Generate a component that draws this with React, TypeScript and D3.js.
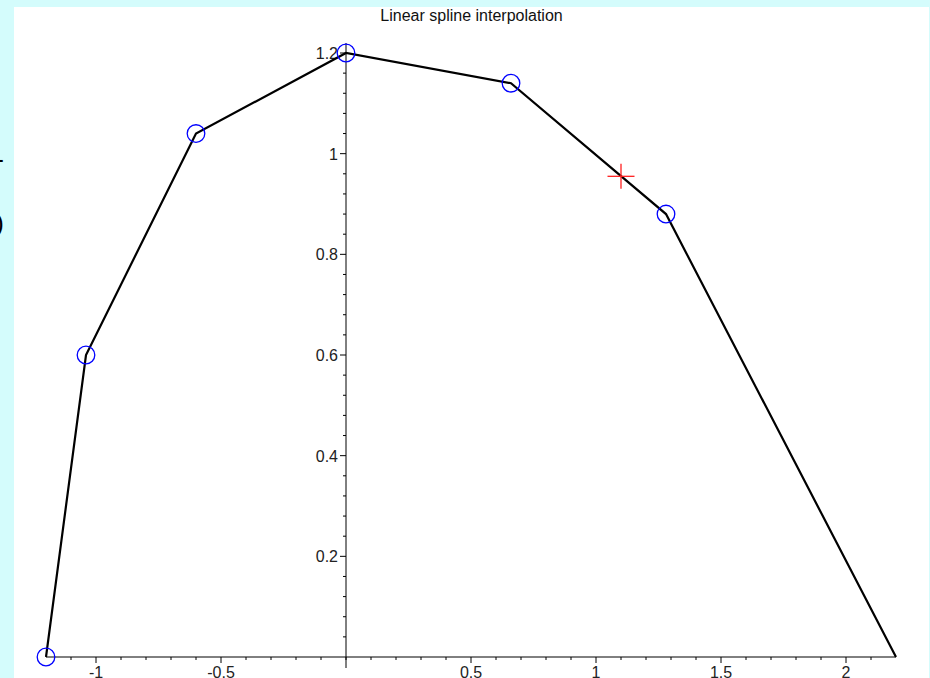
import React from "react";
import * as d3 from "d3";

// knots of the linear spline
const knotX = [-1.2, -1.04, -0.6, 0, 0.66, 1.28, 2.2];
const knotY = [0, 0.6, 1.04, 1.2, 1.14, 0.88, 0];
// knots drawn with a circle marker
const markedCount = 6;
// evaluated point (red cross)
const queryX = [1.1];
const queryY = [0.955];

const xMajorTicks = [-1, -0.5, 0.5, 1, 1.5, 2];
const yMajorTicks = [0.2, 0.4, 0.6, 0.8, 1, 1.2];
const title = "Linear spline interpolation";

const W = 930;
const H = 678;
const FONT = "'Liberation Sans', Arial, sans-serif";

export default function App() {
  const x = d3.scaleLinear().domain([-1.2, 2.2]).range([46, 896]);
  const y = d3.scaleLinear().domain([0, 1.2]).range([657, 53]);

  const xMinor = d3.range(-11, 22).map((i) => i / 10);
  const yMinor = d3.range(1, 31).map((i) => i * 0.04);

  const line = d3
    .line<number>()
    .x((_, i) => x(knotX[i]))
    .y((d) => y(d));

  const x0 = x(0);
  const y0 = y(0);

  return (
    <div style={{ position: "fixed", left: 0, top: 0, width: W, height: H }}>
      <svg width={W} height={H} style={{ display: "block" }}>
        <rect x={0} y={0} width={W} height={H} fill="#d4fcfc" />
        <rect x={14} y={7} width={915} height={H - 7} fill="#ffffff" />

        {/* glyphs of a label that sits mostly off the left edge */}
        <text x={4} y={168} textAnchor="end" fontSize={26} fontFamily={FONT} fill="#000">
          -
        </text>
        <text x={4} y={232} textAnchor="end" fontSize={26} fontFamily={FONT} fill="#000">
          )
        </text>

        <text
          x={471.5}
          y={21}
          textAnchor="middle"
          fontSize={16}
          fontFamily={FONT}
          fill="#111"
        >
          {title}
        </text>

        {/* axes */}
        <line x1={x(-1.2)} x2={x(2.2)} y1={y0} y2={y0} stroke="#000" strokeWidth={1} />
        <line x1={x0} x2={x0} y1={43} y2={668} stroke="#000" strokeWidth={1} />

        {xMinor.map((t) => {
          const major = xMajorTicks.some((m) => Math.abs(m - t) < 1e-9);
          return (
            <line
              key={"xt" + t}
              x1={x(t)}
              x2={x(t)}
              y1={y0}
              y2={y0 + (major ? 6 : 3)}
              stroke="#000"
            />
          );
        })}
        {xMajorTicks.map((t) => (
          <text
            key={"xl" + t}
            x={x(t)}
            y={678}
            textAnchor="middle"
            fontSize={16}
            fontFamily={FONT}
            fill="#222"
          >
            {t}
          </text>
        ))}

        {yMinor.map((t) => {
          const major = yMajorTicks.some((m) => Math.abs(m - t) < 1e-9);
          return (
            <line
              key={"yt" + t}
              x1={x0}
              x2={x0 - (major ? 6 : 3)}
              y1={y(t)}
              y2={y(t)}
              stroke="#000"
            />
          );
        })}
        {yMajorTicks.map((t) => (
          <text
            key={"yl" + t}
            x={338}
            y={y(t) + 6}
            textAnchor="end"
            fontSize={16}
            fontFamily={FONT}
            fill="#222"
          >
            {t}
          </text>
        ))}

        {/* spline */}
        <path d={line(knotY) || ""} fill="none" stroke="#000" strokeWidth={2.2} />

        {knotY.slice(0, markedCount).map((v, i) => (
          <circle
            key={"k" + i}
            cx={x(knotX[i])}
            cy={y(v)}
            r={8.8}
            fill="none"
            stroke="#0000ff"
            strokeWidth={1.3}
          />
        ))}

        {queryX.map((qx, i) => {
          const cx = x(qx);
          const cy = y(queryY[i]);
          return (
            <g key={"q" + i} stroke="#ff2020" strokeWidth={1.3}>
              <line x1={cx - 13.5} x2={cx + 13.5} y1={cy} y2={cy} />
              <line x1={cx} x2={cx} y1={cy - 12.5} y2={cy + 12.5} />
            </g>
          );
        })}
      </svg>
    </div>
  );
}
